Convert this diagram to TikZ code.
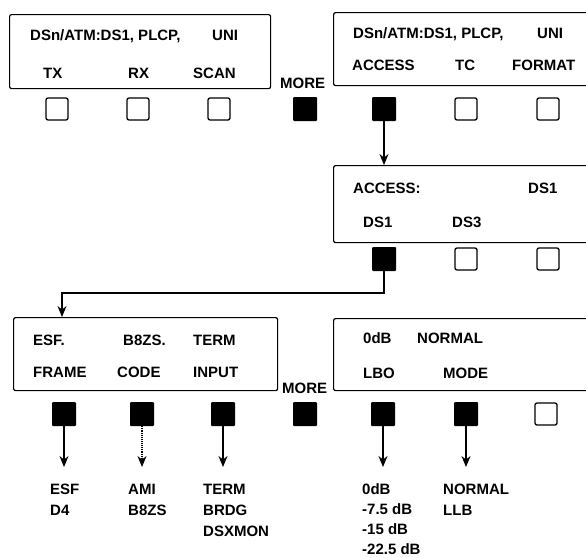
\documentclass[tikz,border=0pt]{standalone}
\usepackage{fontspec}
\setmainfont{Liberation Sans}
\usetikzlibrary{arrows.meta}
\providecommand{\panelLineColor}{black}
\providecommand{\panelLineWidth}{1.2pt}
\providecommand{\keyLineWidth}{1.3pt}
\begin{document}
\begin{tikzpicture}[x=1pt, y=-1pt,
  panel/.style={draw=\panelLineColor, line width=\panelLineWidth, rounded corners=2pt,
    anchor=north west, inner sep=0pt},
  lbl/.style={anchor=base west, inner sep=0pt, font=\fontsize{15}{18}\selectfont\bfseries},
  keyon/.style={fill=black, minimum size=24pt, inner sep=0pt, rounded corners=1pt},
  keyoff/.style={draw=black, fill=white, line width=\keyLineWidth, minimum size=22pt,
    inner sep=0pt, rounded corners=2pt},
  arr/.style={line width=1.1pt, -{Stealth[length=11pt, width=9pt]}}]
\useasboundingbox (0,0) rectangle (586,557);
% Display panels
\node[panel, minimum width=261pt, minimum height=74pt] (txpanel) at (9,14) {};
\node[panel, minimum width=257pt, minimum height=73pt] (accpanel) at (333,12) {};
\node[panel, minimum width=257pt, minimum height=77pt] (dspanel) at (333,165) {};
\node[panel, minimum width=264pt, minimum height=73pt] (framepanel) at (13,317) {};
\node[panel, minimum width=257pt, minimum height=72pt] (lbopanel) at (333,318) {};
% Panel texts
\node[lbl] (txhead) at (30,40) {DSn/ATM:DS1, PLCP,};
\node[lbl] (txuni) at (212,40) {UNI};
\node[lbl] (tx) at (43,78) {TX};
\node[lbl] (rx) at (128,78) {RX};
\node[lbl] (scan) at (193,78) {SCAN};
\node[lbl] (acchead) at (353,38) {DSn/ATM:DS1, PLCP,};
\node[lbl] (accuni) at (537,38) {UNI};
\node[lbl] (access) at (352,70) {ACCESS};
\node[lbl] (tc) at (455,70) {TC};
\node[lbl] (format) at (512,70) {FORMAT};
\node[lbl] (morea) at (280,88) {MORE};
\node[lbl] (dshead) at (353,193) {ACCESS:};
\node[lbl] (dsval) at (528,193) {DS1};
\node[lbl] (dsone) at (363,227) {DS1};
\node[lbl] (dsthree) at (452,227) {DS3};
\node[lbl] (esf) at (33,345) {ESF.};
\node[lbl] (bzs) at (123,345) {B8ZS.};
\node[lbl] (term) at (193,345) {TERM};
\node[lbl] (frame) at (33,377) {FRAME};
\node[lbl] (code) at (117,377) {CODE};
\node[lbl] (input) at (193,377) {INPUT};
\node[lbl] (moreb) at (282,393) {MORE};
\node[lbl] (zerodb) at (363,343) {0dB};
\node[lbl] (normal) at (417,343) {NORMAL};
\node[lbl] (lbo) at (363,378) {LBO};
\node[lbl] (mode) at (443,378) {MODE};
% Keys, top row
\node[keyoff] (txkey) at (57,109) {};
\node[keyoff] (rxkey) at (138,109) {};
\node[keyoff] (scankey) at (219,109) {};
\node[keyon] (moreakey) at (305,109) {};
\node[keyon] (acckey) at (384,109) {};
\node[keyoff] (tckey) at (466,109) {};
\node[keyoff] (fmtkey) at (548,109) {};
% Keys, middle row
\node[keyon] (dsonekey) at (384,259) {};
\node[keyoff] (dsthreekey) at (466,259) {};
\node[keyoff] (dsfreekey) at (548,259) {};
% Keys, bottom row
\node[keyon] (esfkey) at (64,414) {};
\node[keyon] (codekey) at (142,414) {};
\node[keyon] (termkey) at (223,414) {};
\node[keyon] (morebkey) at (305,414) {};
\node[keyon] (lbokey) at (383,414) {};
\node[keyon] (modekey) at (466,414) {};
\node[keyoff] (lastkey) at (546,414) {};
% Connectors
\draw[arr] (acckey) -- (acckey |- dspanel.north);
\coordinate (bend) at (62,293);
\draw[arr] (dsonekey) |- (bend) -- (bend |- framepanel.north);
\coordinate (esftip) at (64,467);
\coordinate (codetip) at (142,467);
\coordinate (termtip) at (223,467);
\coordinate (lbotip) at (383,467);
\coordinate (modetip) at (466,467);
\draw[arr] (esfkey) -- (esftip);
\draw[arr, densely dotted] (codekey) -- (codetip);
\draw[arr] (termkey) -- (termtip);
\draw[arr] (lbokey) -- (lbotip);
\draw[arr] (modekey) -- (modetip);
% Option lists
\node[lbl] (esfopt) at (50,494) {ESF};
\node[lbl] (dfouropt) at (50,515) {D4};
\node[lbl] (amiopt) at (128,494) {AMI};
\node[lbl] (bzsopt) at (128,515) {B8ZS};
\node[lbl] (termopt) at (203,494) {TERM};
\node[lbl] (brdgopt) at (203,515) {BRDG};
\node[lbl] (dsxopt) at (203,536) {DSXMON};
\node[lbl] (zeroopt) at (362,494) {0dB};
\node[lbl] (sevenopt) at (362,514) {-7.5 dB};
\node[lbl] (fifteenopt) at (362,534) {-15 dB};
\node[lbl] (twentyopt) at (362,554) {-22.5 dB};
\node[lbl] (normopt) at (443,494) {NORMAL};
\node[lbl] (llbopt) at (443,515) {LLB};
\end{tikzpicture}
\end{document}
